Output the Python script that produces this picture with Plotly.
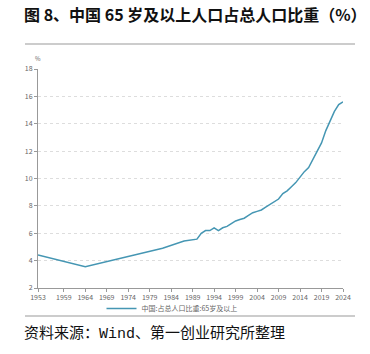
import plotly.graph_objects as go

years = [1953, 1964, 1982, 1987, 1990, 1991, 1992, 1993, 1994, 1995, 1996, 1997, 1998, 1999,
         2000, 2001, 2002, 2003, 2004, 2005, 2006, 2007, 2008, 2009, 2010, 2011, 2012, 2013,
         2014, 2015, 2016, 2017, 2018, 2019, 2020, 2021, 2022, 2023, 2024]
share65 = [4.41, 3.56, 4.91, 5.44, 5.57, 6.0, 6.2, 6.2, 6.4, 6.2, 6.4, 6.5, 6.7, 6.9,
           7.0, 7.1, 7.3, 7.5, 7.6, 7.7, 7.9, 8.1, 8.3, 8.5, 8.9, 9.1, 9.4, 9.7,
           10.1, 10.5, 10.8, 11.4, 11.9, 12.6, 13.5, 14.2, 14.9, 15.4, 15.6]
x_ticks = [1953, 1959, 1964, 1969, 1974, 1979, 1984, 1989, 1994, 1999, 2004, 2009, 2014, 2019, 2024]
y_ticks = [2, 4, 6, 8, 10, 12, 14, 16, 18]
series_name = "中国:占总人口比重:65岁及以上"
title_text = "图 8、中国 65 岁及以上人口占总人口比重（%）"
source_text = "资料来源：Wind、第一创业研究所整理"

fig = go.Figure()
fig.add_trace(go.Scatter(x=years, y=share65, mode="lines", name=series_name,
                         line=dict(color="#4596b3", width=1.5)))

W, H = 370, 354
L, R, T, B = 38, 27, 69, 66
ph = H - T - B
pw = W - L - R

def px2x(px):
    return (px - L) / pw

def py2y(py):
    return (H - B - py) / ph

fig.update_layout(
    width=W, height=H,
    margin=dict(l=L, r=R, t=T, b=B),
    paper_bgcolor="white", plot_bgcolor="white",
    font=dict(family="Noto Sans CJK SC", color="#666"),
    showlegend=True,
    legend=dict(orientation="h", x=px2x(172), y=py2y(294), xanchor="center", yanchor="top",
                font=dict(size=7, color="#666"), bgcolor="rgba(0,0,0,0)", itemwidth=30),
    xaxis=dict(range=[1953, 2024], tickvals=x_ticks, ticktext=[str(v) for v in x_ticks],
               showgrid=False, zeroline=False, showline=True, linecolor="#999", linewidth=1,
               ticks="outside", ticklen=3, tickcolor="#999", tickfont=dict(size=7, color="#666")),
    yaxis=dict(range=[2, 18], tickvals=y_ticks, showgrid=True, gridcolor="#ddd", griddash="dot",
               gridwidth=1, zeroline=False, showline=True, linecolor="#999", linewidth=1,
               ticks="outside", ticklen=3, tickcolor="#999", tickfont=dict(size=7, color="#666")),
)

fig.add_shape(type="line", xref="paper", yref="paper", x0=px2x(25), x1=px2x(355),
              y0=py2y(44), y1=py2y(44), line=dict(color="#999", width=1))
fig.add_shape(type="line", xref="paper", yref="paper", x0=px2x(25), x1=px2x(355),
              y0=py2y(316), y1=py2y(316), line=dict(color="#999", width=1))

fig.add_annotation(text="<b>" + title_text + "</b>", xref="paper", yref="paper",
                   x=px2x(195), y=py2y(14), xanchor="center", yanchor="middle",
                   showarrow=False, font=dict(size=16, color="#111", family="Noto Sans CJK SC"))
fig.add_annotation(text=source_text, xref="paper", yref="paper",
                   x=px2x(22), y=py2y(333), xanchor="left", yanchor="middle",
                   showarrow=False,
                   font=dict(size=15, color="#111", family="Liberation Mono, Noto Sans CJK SC"))
fig.add_annotation(text="%", xref="paper", yref="paper",
                   x=px2x(38), y=py2y(59), xanchor="center", yanchor="middle",
                   showarrow=False, font=dict(size=6, color="#666"))

fig.write_html("out.html")
